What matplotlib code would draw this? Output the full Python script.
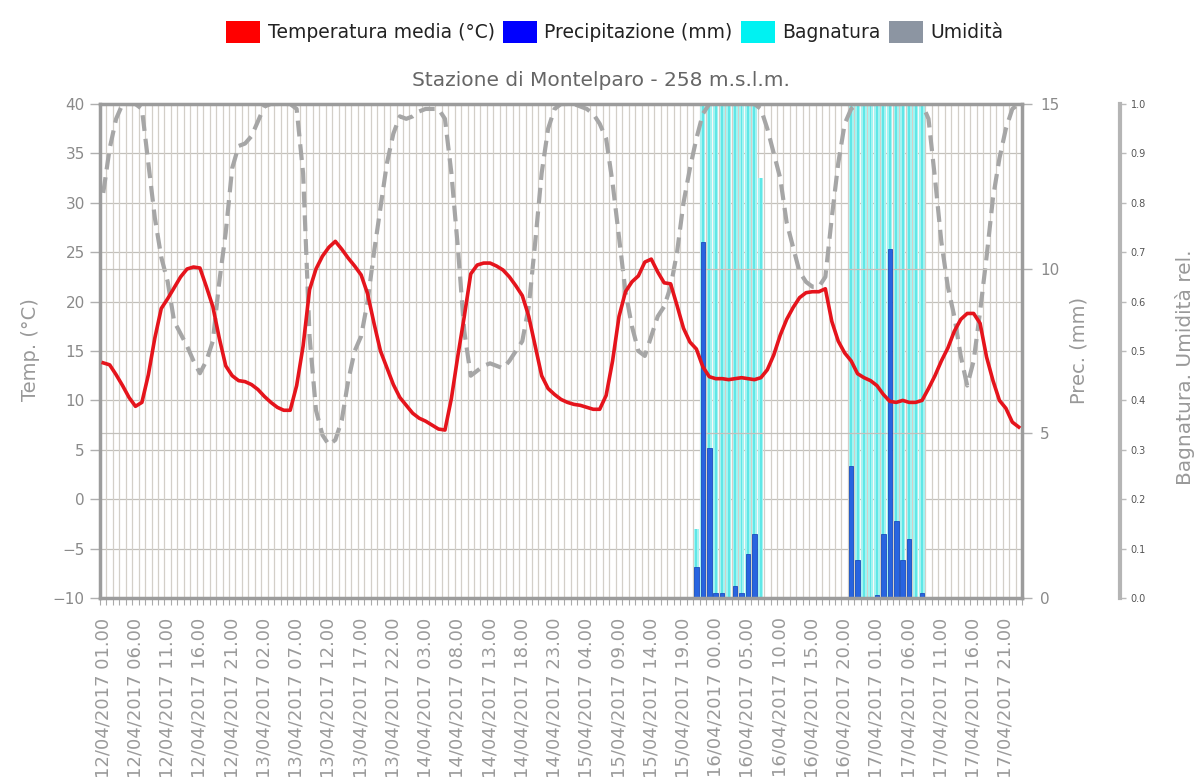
import matplotlib
matplotlib.use('Agg')
import matplotlib.pyplot as plt
from matplotlib.patches import Patch
import numpy as np
import pandas as pd

# hourly readings, 12/04/2017 01:00 -> 17/04/2017 23:00
times = pd.date_range('2017-04-12 01:00', periods=143, freq='h')

# temperatura media (°C)
temp = [13.8, 13.6, 12.6, 11.5, 10.3, 9.4, 9.8, 12.6, 16.3, 19.3,
        20.3, 21.4, 22.5, 23.3, 23.5, 23.4, 21.5, 19.5, 16.3, 13.5,
        12.5, 12.0, 11.9, 11.6, 11.1, 10.4, 9.8, 9.3, 9.0, 9.0,
        11.5, 15.5, 21.2, 23.3, 24.6, 25.5, 26.1, 25.3, 24.4, 23.6,
        22.7, 20.8, 17.8, 15.0, 13.3, 11.6, 10.3, 9.5, 8.7, 8.2,
        7.9, 7.5, 7.1, 7.0, 10.2, 14.5, 18.5, 22.8, 23.7, 23.9,
        23.9, 23.6, 23.2, 22.5, 21.6, 20.6, 18.5, 15.5, 12.5, 11.2,
        10.6, 10.1, 9.8, 9.6, 9.5, 9.3, 9.1, 9.1, 10.5, 14.0,
        18.5, 21.0, 22.0, 22.6, 24.0, 24.3, 23.0, 21.9, 21.8, 19.6,
        17.3, 15.9, 15.2, 13.4, 12.4, 12.2, 12.2, 12.1, 12.2, 12.3,
        12.2, 12.1, 12.3, 13.1, 14.6, 16.6, 18.2, 19.4, 20.4, 20.9,
        21.0, 21.0, 21.3, 18.0, 16.0, 14.8, 14.0, 12.7, 12.3, 12.0,
        11.5, 10.6, 9.9, 9.8, 10.0, 9.8, 9.8, 10.0, 11.2, 12.5,
        14.0, 15.3, 17.0, 18.2, 18.8, 18.8, 17.8, 14.4, 12.0, 10.0,
        9.2, 7.8, 7.3]

# umidita relativa (0-1)
humidity = [0.82, 0.91, 0.97, 1.0, 1.0, 1.0, 0.99, 0.88, 0.77, 0.69,
            0.64, 0.56, 0.535, 0.51, 0.48, 0.455, 0.48, 0.52, 0.64, 0.74,
            0.87, 0.915, 0.92, 0.935, 0.965, 0.995, 1.0, 1.0, 1.0, 1.0,
            0.99, 0.86, 0.53, 0.38, 0.33, 0.31, 0.32, 0.36, 0.44, 0.50,
            0.53, 0.60, 0.70, 0.79, 0.88, 0.94, 0.975, 0.97, 0.975, 0.985,
            0.99, 0.99, 0.99, 0.97, 0.86, 0.71, 0.54, 0.45, 0.46, 0.47,
            0.475, 0.47, 0.465, 0.48, 0.50, 0.52, 0.59, 0.72, 0.86, 0.95,
            0.99, 1.0, 1.0, 1.0, 0.995, 0.99, 0.98, 0.96, 0.93, 0.84,
            0.73, 0.62, 0.55, 0.50, 0.49, 0.53, 0.57, 0.59, 0.63, 0.70,
            0.80, 0.87, 0.93, 0.98, 1.0, 1.0, 1.0, 1.0, 1.0, 1.0,
            1.0, 1.0, 0.99, 0.95, 0.90, 0.85, 0.76, 0.71, 0.66, 0.64,
            0.63, 0.63, 0.65, 0.77, 0.88, 0.96, 0.99, 1.0, 1.0, 1.0,
            1.0, 1.0, 1.0, 1.0, 1.0, 1.0, 1.0, 1.0, 0.97, 0.85,
            0.72, 0.63, 0.57, 0.49, 0.43, 0.48, 0.58, 0.69, 0.81, 0.89,
            0.95, 0.99, 1.0]

# precipitazione (mm), only the hours with rain
rain_hour = [92, 93, 94, 95, 96, 98, 99, 100, 101,
             116, 117, 120, 121, 122, 123, 124, 125, 127]
rain_mm = [0.95, 10.8, 4.55, 0.15, 0.15, 0.35, 0.15, 1.35, 1.95,
           4.0, 1.15, 0.1, 1.95, 10.6, 2.35, 1.15, 1.8, 0.15]

# bagnatura (leaf wetness), only the wet hours
wet_hour = [92, 93, 94, 95, 96, 97, 98, 99, 100, 101, 102,
            116, 117, 118, 119, 120, 121, 122, 123, 124, 125, 126, 127]
wet_val = [0.14, 1, 1, 1, 1, 1, 1, 1, 1, 1, 0.85,
           1, 1, 1, 1, 1, 1, 1, 1, 1, 1, 1, 1]

labels = [t.strftime('%d/%m/%Y %H.00') for t in times]
x = np.arange(len(times))

W, H = 1194, 782
fig = plt.figure(figsize=(W / 100, H / 100), dpi=100)
fig.patch.set_facecolor('white')
ax = fig.add_axes([100 / W, 1 - 598 / H, 922 / W, 494 / H])
ax2 = ax.twinx()
ax3 = ax.twinx()
ax3.set_zorder(1)
ax2.set_zorder(2)
ax.set_zorder(3)
ax.patch.set_visible(False)
ax2.patch.set_visible(False)
ax3.patch.set_facecolor('#faf7f1')

grey = '#9c9c9c'

# bottom layer: grid, bagnatura, umidita
ax3.set_ylim(0, 1)
ax3.set_yticks(np.arange(0, 1.01, 0.1))
ax3.set_yticklabels([f'{v:.1f}' for v in np.arange(0, 1.01, 0.1)])
ax3.set_axisbelow(True)
ax3.yaxis.grid(True, color='#c2c0bb', lw=0.9)
ax3.vlines(np.arange(-0.5, len(x)), 0, 1, color='#d3cfc8', lw=0.9, zorder=0.6)
ax3.bar(wet_hour, wet_val, width=0.8, color='#a4f3f1', zorder=1)
ax3.bar(wet_hour, wet_val, width=0.3, color='#5fe7e7', zorder=1.1)
ax3.plot(x, humidity, color='#a6a6a6', lw=3, dashes=(3.8, 1.9), zorder=2)
for s in ['left', 'top', 'bottom']:
    ax3.spines[s].set_visible(False)
ax3.spines['right'].set_position(('axes', 1.106))
ax3.spines['right'].set_color('#b5b5b5')
ax3.spines['right'].set_linewidth(3)
ax3.tick_params(axis='y', labelsize=7, colors='#555', length=4, width=1, pad=4)
ax3.tick_params(axis='y', color='#bbb')

# precipitazione
ax2.set_ylim(0, 15)
ax2.set_yticks([0, 5, 10, 15])
ax2.set_axisbelow(True)
ax2.yaxis.grid(True, color='#c2c0bb', lw=0.9)
ax2.bar(rain_hour, rain_mm, width=0.7, color='#2864e0', edgecolor='#1a4cbc', lw=0.6, zorder=3)
for s in ['left', 'top', 'bottom']:
    ax2.spines[s].set_visible(False)
ax2.spines['right'].set_color(grey)
ax2.spines['right'].set_linewidth(2.5)
ax2.tick_params(axis='y', labelsize=11, colors='#8a8a8a', length=7, width=1, pad=6)
ax2.tick_params(axis='y', color='#b0b0b0')

# temperatura
ax.plot(x, temp, color='#e5141c', lw=2.6, zorder=5, solid_joinstyle='round')
ax.set_ylim(-10, 40)
ax.set_yticks(range(-10, 41, 5))
ax.set_xlim(-0.5, len(x) - 0.5)
ax.set_xticks(x[::5])
ax.set_xticklabels(labels[::5], rotation=90, fontsize=13, color='#9a9a9a')
ax.set_xticks(np.arange(-0.5, len(x), 1), minor=True)
ax.tick_params(axis='x', which='major', length=0, pad=14)
ax.tick_params(axis='x', which='minor', length=5, color='#aaa', width=0.8)
ax.tick_params(axis='y', labelsize=11, colors='#8a8a8a', length=7, width=1, pad=4)
ax.tick_params(axis='y', color='#b0b0b0')
ax.spines['right'].set_visible(False)
for s in ['left', 'top', 'bottom']:
    ax.spines[s].set_color(grey)
    ax.spines[s].set_linewidth(2.5)

# texts
fig.text(0.503, 1 - 80 / H, 'Stazione di Montelparo - 258 m.s.l.m.',
         ha='center', va='center', fontsize=14.5, color='#666')
fig.text(30 / W, 1 - 350 / H, 'Temp. (°C)', rotation=90, ha='center', va='center',
         fontsize=14, color='#999')
fig.text(1079 / W, 1 - 350 / H, 'Prec. (mm)', rotation=90, ha='center', va='center',
         fontsize=14, color='#999')
fig.text(1185 / W, 1 - 367 / H, 'Bagnatura. Umidità rel.', rotation=90, ha='center',
         va='center', fontsize=14.5, color='#999')

handles = [Patch(facecolor='#ff0000'), Patch(facecolor='#0000ff'),
           Patch(facecolor='#00f2f2'), Patch(facecolor='#8c95a2')]
fig.legend(handles, ['Temperatura media (°C)', 'Precipitazione (mm)', 'Bagnatura', 'Umidità'],
           loc='center', bbox_to_anchor=(615 / W, 1 - 32 / H), ncol=4, frameon=False,
           fontsize=13.5, handlelength=1.8, handleheight=1.35, handletextpad=0.4,
           columnspacing=0.45, labelcolor='#222')

fig.savefig('out.png', dpi=100)
